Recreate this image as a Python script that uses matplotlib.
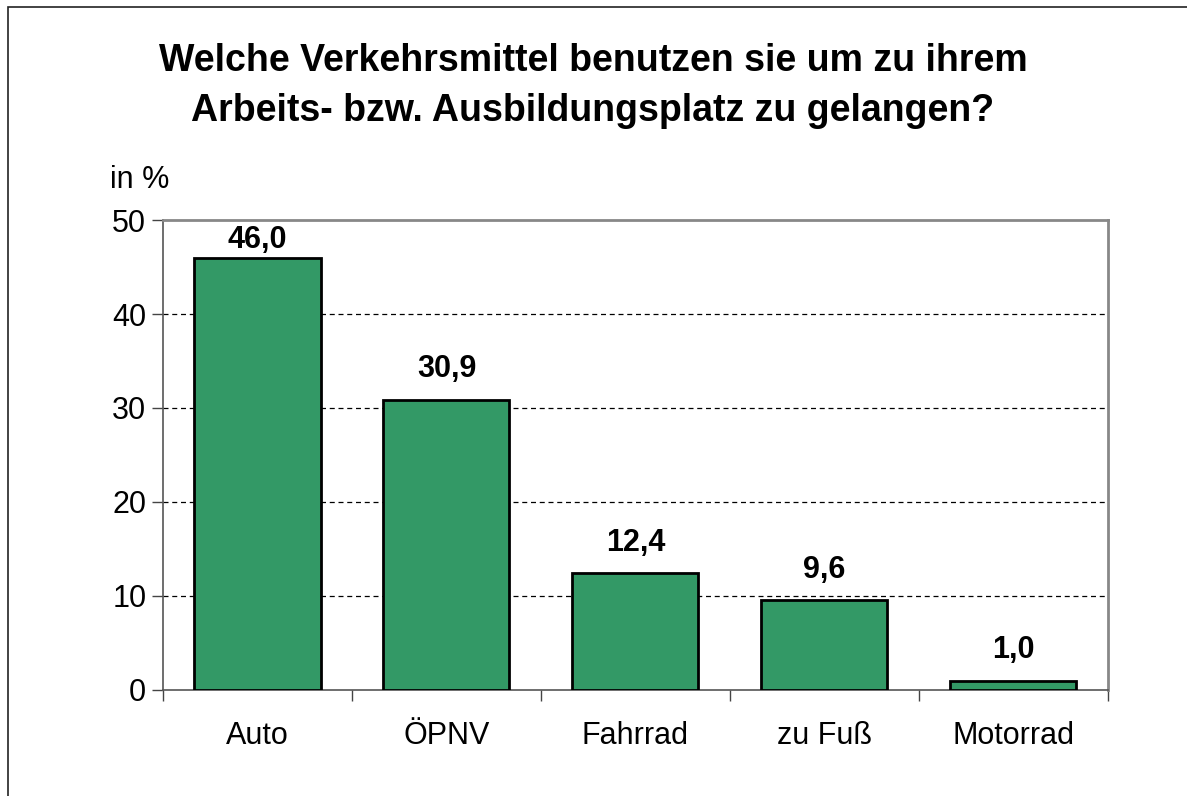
import matplotlib
matplotlib.use("Agg")
import matplotlib.pyplot as plt
from matplotlib.patches import Rectangle

plt.rcParams['font.family'] = ['Liberation Sans', 'DejaVu Sans']

categories = ["Auto", "ÖPNV", "Fahrrad", "zu Fuß", "Motorrad"]
values = [46.0, 30.9, 12.4, 9.6, 1.0]
yticks = [0, 10, 20, 30, 40, 50]

fig = plt.figure(figsize=(11.87, 7.96), dpi=100)
ax = fig.add_axes([0.1373, 0.1332, 0.7961, 0.5904])

# outer frame around the whole chart
fig.patches.append(Rectangle((8 / 1187, -0.05), 1.1, 1 - 7 / 796 + 0.05,
                             transform=fig.transFigure, fill=False,
                             edgecolor="#222222", linewidth=1.2, clip_on=False))

x = range(len(categories))
bars = ax.bar(x, values, width=0.667, color="#339966", edgecolor="black",
              linewidth=2, zorder=3)
# value labels sit above the bars, but stay inside the plot area
for xi, v in zip(x, values):
    ax.text(xi, min(v + 2.35, 47.0), f"{v:.1f}".replace(".", ","),
            ha="center", va="baseline", fontsize=22, fontweight="bold")

ax.set_xlim(-0.5, len(categories) - 0.5)
ax.set_ylim(0, 50)
ax.set_yticks(yticks)
ax.set_yticklabels([str(t) for t in yticks], fontsize=22)
ax.tick_params(axis="y", length=8, width=1, color="#444444", pad=4)

# category labels centred, ticks on the category boundaries
ax.set_xticks(list(x))
ax.set_xticklabels(categories, fontsize=22)
ax.tick_params(axis="x", which="major", length=0, pad=22)
ax.set_xticks([i - 0.5 for i in range(len(categories) + 1)], minor=True)
ax.tick_params(axis="x", which="minor", length=8, width=1, color="#444444")

for t in yticks[1:-1]:
    ax.axhline(t, color="black", linestyle=(0, (4, 3)), linewidth=0.9, zorder=1)

for side in ("top", "right"):
    ax.spines[side].set_color("#888888")
    ax.spines[side].set_linewidth(2)
for side in ("left", "bottom"):
    ax.spines[side].set_color("#555555")
    ax.spines[side].set_linewidth(1.2)

fig.text(0.4996, 1 - 86 / 796, "Welche Verkehrsmittel benutzen sie um zu ihrem\n"
         "Arbeits- bzw. Ausbildungsplatz zu gelangen?",
         ha="center", va="center", fontsize=27, fontweight="bold",
         linespacing=1.5)
fig.text(110 / 1187, 1 - 180 / 796, "in %", ha="left", va="center", fontsize=22)

fig.savefig("out.png", dpi=100)
